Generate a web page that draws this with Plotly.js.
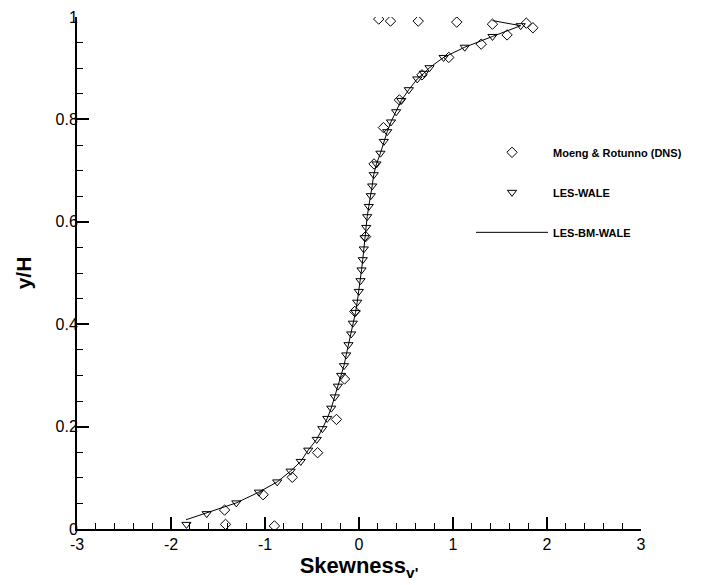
<!DOCTYPE html>
<html><head><meta charset="utf-8">
<script src="https://cdn.plot.ly/plotly-3.0.1.min.js"></script>
<style>html,body{margin:0;padding:0;background:#fff}#chart{width:712px;height:585px}</style>
</head><body><div id="chart"></div>
<script>
// Moeng & Rotunno (DNS)
const dnsX = [-0.90, -1.42, -1.43, -1.02, -0.71, -0.44, -0.24, -0.154, -0.045, 0.07, 0.16, 0.26, 0.43, 0.67, 0.955, 1.30, 1.575, 1.85, 1.78, 1.42, 1.04, 0.63, 0.335, 0.21];
const dnsY = [0.006, 0.009, 0.037, 0.067, 0.101, 0.149, 0.214, 0.293, 0.425, 0.571, 0.713, 0.784, 0.838, 0.887, 0.921, 0.947, 0.965, 0.979, 0.988, 0.986, 0.990, 0.992, 0.992, 0.996];

// LES-WALE
const waleX = [-1.836, -1.62, -1.305, -1.065, -0.87, -0.728, -0.62, -0.54, -0.45, -0.39, -0.338, -0.295, -0.257, -0.225, -0.19, -0.16, -0.136, -0.112, -0.083, -0.066, -0.037, -0.019, -0.002, 0.016, 0.027, 0.040, 0.051, 0.062, 0.077, 0.087, 0.104, 0.125, 0.14, 0.157, 0.186, 0.228, 0.264, 0.30, 0.34, 0.395, 0.45, 0.53, 0.62, 0.69, 0.75, 0.90, 1.125, 1.42, 1.72];
const waleY = [0.009, 0.030, 0.051, 0.072, 0.092, 0.113, 0.132, 0.154, 0.175, 0.196, 0.216, 0.236, 0.258, 0.279, 0.300, 0.319, 0.340, 0.360, 0.381, 0.402, 0.423, 0.443, 0.464, 0.485, 0.506, 0.526, 0.547, 0.569, 0.589, 0.610, 0.630, 0.651, 0.670, 0.692, 0.713, 0.734, 0.757, 0.776, 0.795, 0.815, 0.837, 0.858, 0.879, 0.890, 0.901, 0.921, 0.941, 0.962, 0.983];

// LES-BM-WALE
const bmX = [-1.84, -1.62, -1.305, -1.065, -0.87, -0.728, -0.62, -0.54, -0.45, -0.39, -0.338, -0.295, -0.257, -0.225, -0.19, -0.16, -0.136, -0.112, -0.083, -0.066, -0.037, -0.019, -0.002, 0.016, 0.027, 0.040, 0.051, 0.062, 0.077, 0.087, 0.104, 0.125, 0.14, 0.157, 0.186, 0.228, 0.264, 0.30, 0.34, 0.395, 0.45, 0.53, 0.62, 0.69, 0.75, 0.90, 1.125, 1.42, 1.72, 1.42];
const bmY = [0.018, 0.031, 0.051, 0.072, 0.092, 0.113, 0.132, 0.154, 0.175, 0.196, 0.216, 0.236, 0.258, 0.279, 0.300, 0.319, 0.340, 0.360, 0.381, 0.402, 0.423, 0.443, 0.464, 0.485, 0.506, 0.526, 0.547, 0.569, 0.589, 0.610, 0.630, 0.651, 0.670, 0.692, 0.713, 0.734, 0.757, 0.776, 0.795, 0.815, 0.837, 0.858, 0.879, 0.890, 0.901, 0.921, 0.941, 0.962, 0.983, 0.993];

const xTickVals = [-3, -2, -1, 0, 1, 2, 3];
const xTickText = ['-3', '-2', '-1', '0', '1', '2', '3'];
const yTickVals = [0, 0.2, 0.4, 0.6, 0.8, 1];
const yTickText = ['0', '0.2', '0.4', '0.6', '0.8', '1'];

const FONT = 'Liberation Sans, Arial, Helvetica, sans-serif';

const traces = [
  {x: dnsX, y: dnsY, mode: 'markers', type: 'scatter', name: 'Moeng & Rotunno (DNS)', legendgroup: 'a',
   marker: {symbol: 'diamond-open', size: 8, color: 'black', line: {width: 1, color: 'black'}}},
  {x: waleX, y: waleY, mode: 'markers', type: 'scatter', name: 'LES-WALE', legendgroup: 'b',
   marker: {symbol: 'triangle-down-open', size: 8, color: 'black', line: {width: 1, color: 'black'}}},
  {x: bmX, y: bmY, mode: 'lines', type: 'scatter', name: 'LES-BM-WALE', legendgroup: 'c',
   line: {color: 'black', width: 1}}
];

const layout = {
  width: 712, height: 585,
  margin: {l: 77, r: 71, t: 17, b: 56},
  paper_bgcolor: 'white', plot_bgcolor: 'white',
  font: {family: FONT, color: 'black'},
  showlegend: true,
  legend: {x: 0.6986, y: 0.764, xanchor: 'left', yanchor: 'top', bgcolor: 'rgba(0,0,0,0)',
           itemwidth: 72,
           font: {family: FONT, size: 11, color: 'black', weight: 700}, tracegroupgap: 21},
  xaxis: {
    range: [-3, 3], showgrid: false, zeroline: false, showline: true, linecolor: 'black', linewidth: 2,
    ticks: 'inside', ticklen: 12, tickwidth: 2, tickcolor: 'black',
    tickmode: 'array', tickvals: xTickVals, ticktext: xTickText,
    tickfont: {family: FONT, size: 16, color: 'black'},
    minor: {ticks: 'inside', ticklen: 6, tickwidth: 1, tickcolor: 'black', dtick: 0.2, showgrid: false},
    title: {text: 'Skewness<sub>v\'</sub>', font: {family: FONT, size: 22, color: 'black', weight: 700}, standoff: 4},
    automargin: false
  },
  yaxis: {
    range: [0, 1], showgrid: false, zeroline: false, showline: true, linecolor: 'black', linewidth: 2,
    ticks: 'inside', ticklen: 12, tickwidth: 2, tickcolor: 'black',
    tickmode: 'array', tickvals: yTickVals, ticktext: yTickText,
    tickfont: {family: FONT, size: 16, color: 'black'},
    ticklabelstandoff: -6,
    minor: {ticks: 'inside', ticklen: 6, tickwidth: 1, tickcolor: 'black', dtick: 0.05, showgrid: false},
    title: {text: 'y/H', font: {family: FONT, size: 21, color: 'black', weight: 700}, standoff: 18},
    automargin: false
  }
};

Plotly.newPlot('chart', traces, layout, {displayModeBar: false, staticPlot: true});
</script>
</body></html>
